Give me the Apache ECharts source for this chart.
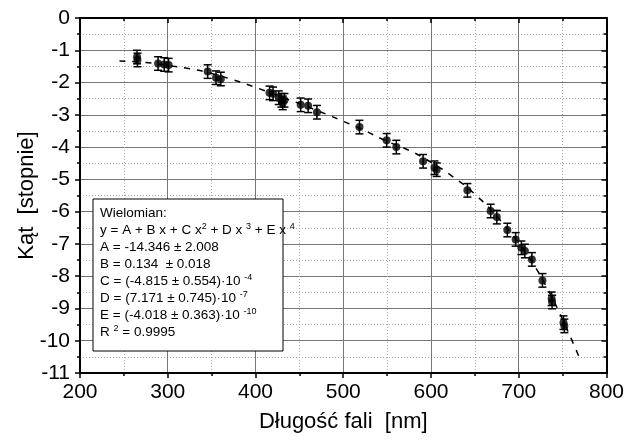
<!DOCTYPE html>
<html>
<head>
<meta charset="utf-8">
<script src="https://cdn.jsdelivr.net/npm/echarts@6/dist/echarts.min.js"></script>
<style>
  html, body { margin: 0; padding: 0; background: #fff; }
  #chart { width: 627px; height: 441px; }
</style>
</head>
<body>
<div id="chart"></div>
<script>
// measured points (wavelength nm, angle deg, error)
const wavelength = [265, 265.5, 289, 296, 301, 345.5, 355, 360.5, 416, 420, 426.5, 429.5, 433, 431,
  451.5, 460, 470, 518.5, 549.5, 560.5, 591, 604, 606.5, 641.5, 668, 675, 687, 696.5, 703, 707,
  715, 727, 737.5, 738, 751, 752]
const angle = [-1.21, -1.30, -1.41, -1.44, -1.46, -1.66, -1.85, -1.89, -2.32, -2.35, -2.47, -2.55, -2.55, -2.63,
  -2.69, -2.72, -2.92, -3.38, -3.79, -4.00, -4.44, -4.64, -4.70, -5.34, -5.98, -6.17, -6.57, -6.86, -7.12, -7.22,
  -7.48, -8.13, -8.70, -8.80, -9.44, -9.54]
const angleErr = [0.21, 0.21, 0.21, 0.21, 0.21, 0.21, 0.21, 0.21, 0.21, 0.21, 0.21, 0.21, 0.21, 0.21,
  0.21, 0.21, 0.21, 0.21, 0.21, 0.21, 0.21, 0.21, 0.21, 0.21, 0.21, 0.21, 0.21, 0.21, 0.21, 0.21,
  0.21, 0.21, 0.21, 0.21, 0.21, 0.21]

// dashed fit curve
const fitX = [245, 275, 300, 325, 350, 375, 400, 425, 450, 475, 500, 525, 550, 575, 600, 625, 650, 675, 700, 715, 730, 745, 760, 770]
const fitY = [-1.33, -1.38, -1.47, -1.57, -1.72, -1.92, -2.15, -2.40, -2.65, -2.92, -3.20, -3.50, -3.82, -4.10,
  -4.47, -4.92, -5.46, -6.15, -6.97, -7.55, -8.25, -9.05, -9.95, -10.58]

const boxLines = [
  'Wielomian:',
  'y = A + B x + C x{s|2} + D x {s|3} + E x {s|4}',
  'A = -14.346 ± 2.008',
  'B = 0.134  ± 0.018',
  'C = (-4.815 ± 0.554)·10 {s|-4}',
  'D = (7.171 ± 0.745)·10 {s|-7}',
  'E = (-4.018 ± 0.363)·10 {s|-10}',
  'R {s|2} = 0.9995'
]

const FONT = "'Liberation Sans', Arial, sans-serif"

const chart = echarts.init(document.getElementById('chart'))

const pointData = wavelength.map((w, i) => [w, angle[i], angleErr[i]])
const fitData = fitX.map((x, i) => [x, fitY[i]])

// wspólne ustawienia osi
const axisLine = { show: true, onZero: false, lineStyle: { color: '#000', width: 2 } }
const mainAxis = (extra) => Object.assign({
  type: 'value',
  axisLine: axisLine,
  axisTick: { show: true, inside: false, length: 5, lineStyle: { color: '#000', width: 1.5 } },
  minorTick: { show: true, splitNumber: 2, length: 3, lineStyle: { color: '#000', width: 1.5 } },
  splitLine: { show: true, lineStyle: { color: '#777', width: 1 } },
  minorSplitLine: { show: true, lineStyle: { color: '#aaa', width: 1, type: [1, 2] } },
  nameTextStyle: { color: '#000', fontSize: 22, fontFamily: FONT },
  nameLocation: 'middle',
  nameMoveOverlap: false
}, extra)
const mirrorAxis = (extra) => Object.assign({
  type: 'value',
  axisLine: axisLine,
  axisTick: { show: true, inside: true, length: 5, lineStyle: { color: '#000', width: 1.5 } },
  minorTick: { show: true, splitNumber: 2, length: 3, lineStyle: { color: '#000', width: 1.5 } },
  splitLine: { show: false },
  axisLabel: { show: false }
}, extra)

const option = {
  animation: false,
  backgroundColor: '#fff',
  grid: { left: 80, right: 19, top: 18, bottom: 68 },
  xAxis: [
    mainAxis({ position: 'bottom', min: 200, max: 800, interval: 100, name: 'Długość fali  [nm]', nameGap: 38,
      axisLabel: { color: '#000', fontSize: 21, fontFamily: FONT, margin: 9 } }),
    mirrorAxis({ position: 'top', min: 200, max: 800, interval: 100 })
  ],
  yAxis: [
    mainAxis({ position: 'left', min: -11, max: 0, interval: 1, name: 'Kąt  [stopnie]', nameGap: 42,
      axisLabel: { color: '#000', fontSize: 21, fontFamily: FONT, margin: 10 } }),
    mirrorAxis({ position: 'right', min: -11, max: 0, interval: 1 })
  ],
  series: [
    {
      name: 'fit',
      type: 'line',
      data: fitData,
      smooth: true,
      showSymbol: false,
      lineStyle: { color: '#000', width: 1.5, type: [6, 7] },
      z: 2
    },
    {
      name: 'errors',
      type: 'custom',
      data: pointData,
      renderItem: (params, api) => {
        const x = api.value(0)
        const y = api.value(1)
        const e = api.value(2)
        const top = api.coord([x, y + e])
        const bot = api.coord([x, y - e])
        const st = { stroke: '#000', lineWidth: 1.5 }
        return {
          type: 'group',
          children: [
            { type: 'line', shape: { x1: top[0], y1: top[1], x2: bot[0], y2: bot[1] }, style: st },
            { type: 'line', shape: { x1: top[0] - 4, y1: top[1], x2: top[0] + 4, y2: top[1] }, style: st },
            { type: 'line', shape: { x1: bot[0] - 4, y1: bot[1], x2: bot[0] + 4, y2: bot[1] }, style: st }
          ]
        }
      },
      z: 3
    },
    {
      name: 'points',
      type: 'scatter',
      data: pointData,
      symbol: 'circle',
      symbolSize: 8,
      itemStyle: { color: '#000' },
      z: 4
    }
  ],
  graphic: [
    {
      type: 'rect',
      shape: { x: 93, y: 199, width: 190, height: 152 },
      style: { fill: '#fff', stroke: '#000', lineWidth: 1 },
      z: 10
    },
    {
      type: 'text',
      x: 100,
      y: 205,
      z: 11,
      style: {
        text: boxLines.join('\n'),
        fill: '#000',
        fontSize: 13.5,
        fontFamily: FONT,
        lineHeight: 17,
        rich: {
          s: { fontSize: 9, fontFamily: FONT, fill: '#000', verticalAlign: 'top', lineHeight: 17 }
        }
      }
    }
  ]
}

chart.setOption(option)
</script>
</body>
</html>
